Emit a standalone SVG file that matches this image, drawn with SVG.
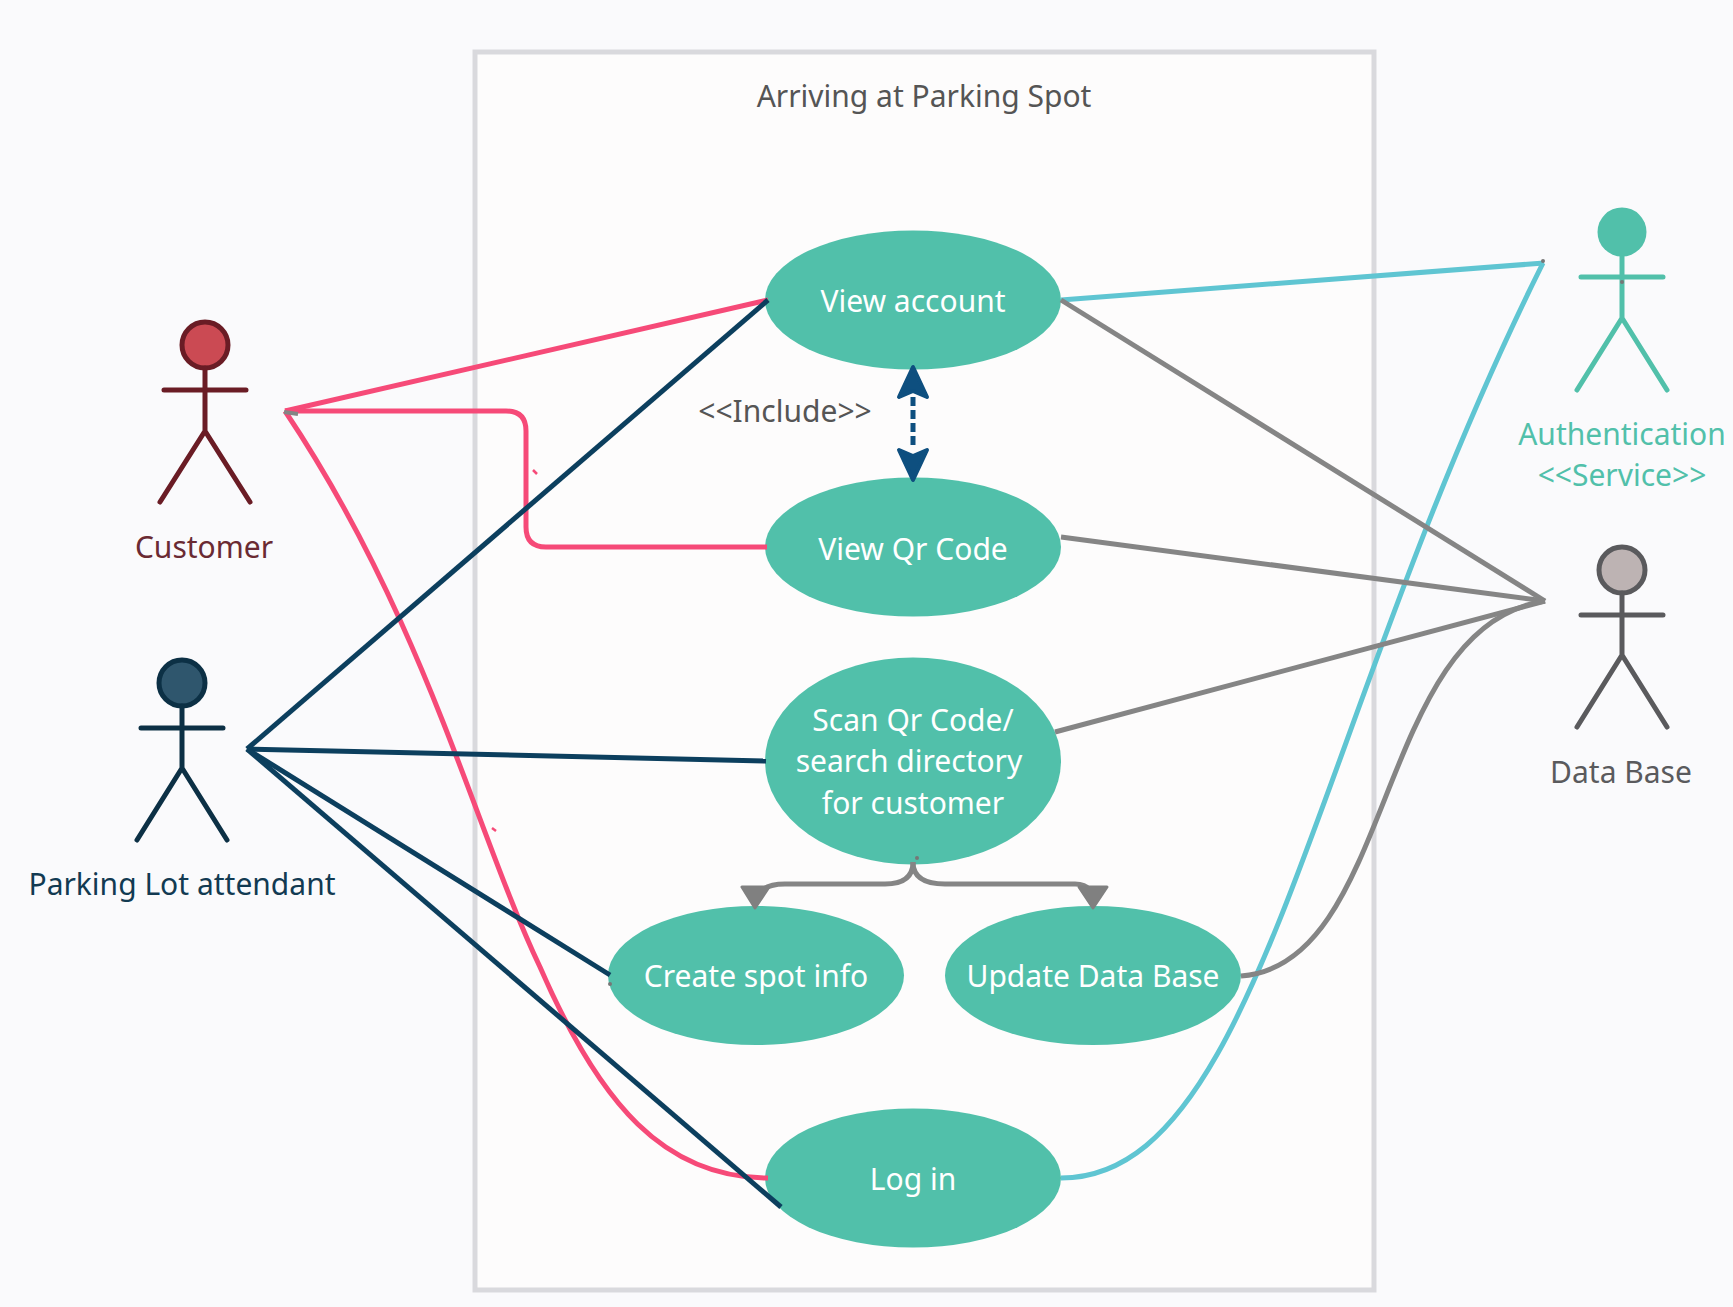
<svg xmlns="http://www.w3.org/2000/svg" width="1733" height="1307" viewBox="0 0 1733 1307">
<style>
text{font-family:"Noto Sans","Open Sans","DejaVu Sans",sans-serif;font-size:30px;text-anchor:middle}
.uc ellipse{fill:#51c0aa}
.uc text{fill:#fff}
.c{fill:none;stroke-width:5;stroke-linejoin:round}
.pink{stroke:#f64a78}
.navy{stroke:#0c3f5e}
.aqua{stroke:#5fc5d2}
.gray{stroke:#858585}
.a{stroke-width:5;stroke-linecap:round;fill:none}
.dot{fill:#777}
.tick{stroke:#f64a78;stroke-width:2.500;fill:none}
</style>
<rect width="1733" height="1307" fill="#fafafc"/>
<g id="boundary"><rect x="475" y="52" width="899" height="1238" fill="#fdfcfc" stroke="#d9d9dd" stroke-width="5"/><text x="924" y="107" fill="#555">Arriving at Parking Spot</text></g>
<g id="view-account" class="uc"><ellipse cx="913" cy="300" rx="148" ry="69.500"/><text x="913" y="312">View account</text></g>
<g id="view-qr" class="uc"><ellipse cx="913" cy="547" rx="148" ry="69.500"/><text x="913" y="560">View Qr Code</text></g>
<g id="scan-qr" class="uc"><ellipse cx="913" cy="761" rx="148" ry="103.500"/><text x="913" y="731">Scan Qr Code/</text><text x="909" y="772">search directory</text><text x="913" y="814">for customer</text></g>
<g id="create-spot" class="uc"><ellipse cx="756" cy="975.500" rx="148" ry="69.500"/><text x="756" y="987">Create spot info</text></g>
<g id="update-db" class="uc"><ellipse cx="1093" cy="975.500" rx="148" ry="69.500"/><text x="1093" y="987">Update Data Base</text></g>
<g id="log-in" class="uc"><ellipse cx="913" cy="1178" rx="148" ry="69.500"/><text x="913" y="1190">Log in</text></g>
<g id="connectors">
<path class="c pink" d="M285 411L768 300"/>
<path class="c pink" d="M285 411H506Q526 411 526 431V527Q526 547 546 547H767"/>
<path class="c pink" d="M285 411C425 620 475 830 540 967C600 1105 665 1178 768 1178"/>
<path class="c navy" d="M247 749L768 300"/>
<path class="c navy" d="M247 749L766 761"/>
<path class="c navy" d="M247 749L610 975"/>
<path class="c navy" d="M247 749L781 1207"/>
<path class="c aqua" d="M1061 1178C1260 1178 1310 730 1543 263"/>
<path class="c aqua" d="M1061 300L1544 263"/>
<path class="c gray" d="M1061 300L1545 601"/>
<path class="c gray" d="M1061 537L1545 601"/>
<path class="c gray" d="M1055 732L1545 601"/>
<path class="c gray" d="M1241 976C1395 965 1375 625 1545 601"/>
<path class="c gray" d="M913 862Q913 884 885 884H785Q770 884 762 890"/>
<path class="c gray" d="M913 862Q913 884 945 884H1075Q1085 884 1090 890"/>
<path d="M742 887H769L755 908Z" fill="#808080" stroke="#808080" stroke-width="3" stroke-linejoin="round"/>
<path d="M1079 887H1107L1093 908Z" fill="#808080" stroke="#808080" stroke-width="3" stroke-linejoin="round"/>
<circle class="dot" cx="917" cy="858" r="2"/>
<circle class="dot" cx="610" cy="984" r="2"/>
<circle class="dot" cx="1543" cy="261" r="2"/>
<path d="M913 397V449" stroke="#0e4f7f" stroke-width="5" stroke-dasharray="9 4" fill="none"/>
<path d="M913 367L899 397L913 391L927 397Z" fill="#0e4f7f" stroke="#0e4f7f" stroke-width="4" stroke-linejoin="round"/>
<path d="M913 480L899 450L913 456L927 450Z" fill="#0e4f7f" stroke="#0e4f7f" stroke-width="4" stroke-linejoin="round"/>
<path class="tick" d="M533 470L537 474"/>
<path class="tick" d="M492 828L496 831"/>
<path d="M284 412L298 414" stroke="#858585" stroke-width="4" fill="none"/>
</g>
<text x="785" y="422" fill="#555">&lt;&lt;Include&gt;&gt;</text>
<g id="customer"><circle cx="205" cy="345" r="23" fill="#cb4a53" stroke="#6a1c25" stroke-width="5"/><path class="a" stroke="#6a1c25" d="M205 368V431M164 390H246M205 431L160 502M205 431L250 502"/><text x="204" y="558" fill="#6a2a33">Customer</text></g>
<g id="attendant"><circle cx="182" cy="683" r="23" fill="#2f566d" stroke="#0c3045" stroke-width="5"/><path class="a" stroke="#0c3045" d="M182 706V768M141 728H223M182 768L137 840M182 768L227 840"/><text x="182" y="895" fill="#123a52">Parking Lot attendant</text></g>
<g id="authentication"><circle cx="1622" cy="232" r="24.500" fill="#51c0aa"/><path class="a" stroke="#51c0aa" d="M1622 256V318M1581 277H1663M1622 318L1577 390M1622 318L1667 390"/><circle class="dot" cx="1622" cy="282" r="2"/><text x="1622" y="445" fill="#51c0aa">Authentication</text><text x="1622" y="486" fill="#51c0aa">&lt;&lt;Service&gt;&gt;</text></g>
<g id="database"><circle cx="1622" cy="570" r="23" fill="#bdb3b3" stroke="#5a5a5d" stroke-width="5"/><path class="a" stroke="#5a5a5d" d="M1622 593V655M1581 615H1663M1622 655L1577 727M1622 655L1667 727"/><text x="1621" y="783" fill="#5a5a5d">Data Base</text></g>
</svg>
